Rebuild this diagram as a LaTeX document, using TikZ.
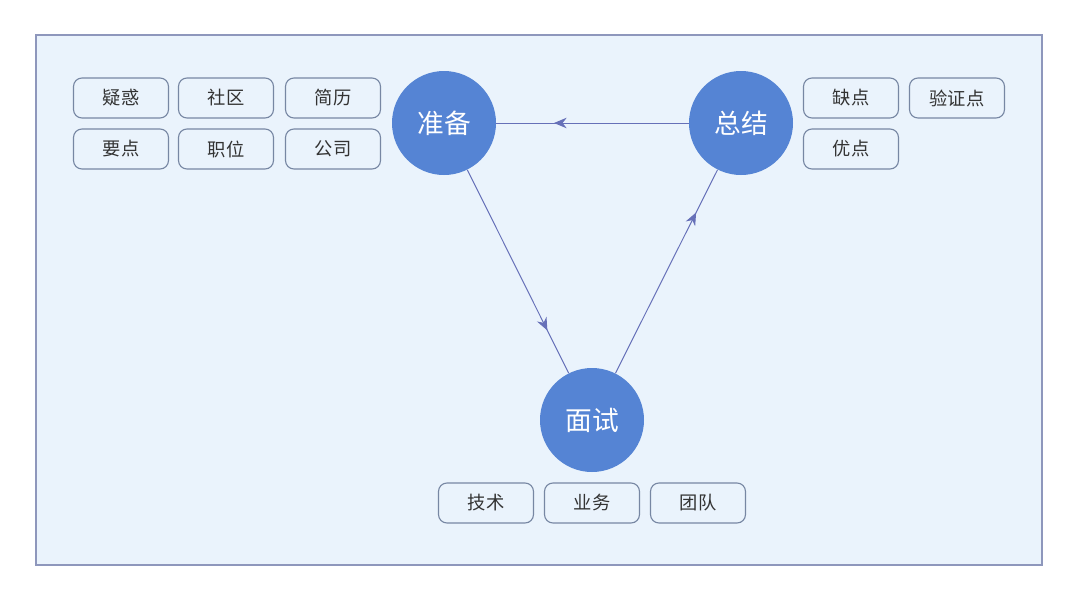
\documentclass[tikz,border=0pt]{standalone}
\usepackage{fontspec}
\setmainfont{Noto Sans CJK SC}
\usetikzlibrary{arrows.meta,decorations.markings}
\definecolor{fondoPanel}{HTML}{EAF3FC}
\definecolor{bordePanel}{HTML}{8E97BC}
\definecolor{azulHub}{HTML}{5584D4}
\definecolor{lineaFlujo}{HTML}{6670B8}
\definecolor{bordeTag}{HTML}{7787A3}
\definecolor{textoTag}{HTML}{333333}

\begin{document}
\begin{tikzpicture}[x=0.025cm,y=-0.025cm,>=Stealth,
  hub/.style={circle,fill=azulHub,minimum size=104*0.025cm,inner sep=0pt,
    text=white,font=\fontsize{19}{22}\selectfont},
  tag/.style={draw=bordeTag,line width=0.8pt,rounded corners=6pt,minimum width=95*0.025cm,
    minimum height=40*0.025cm,inner sep=0pt,text=textoTag,
    font=\fontsize{13}{15}\selectfont},
  flow/.style={lineaFlujo,line width=0.7pt,postaction={decorate},
    decoration={markings,mark=at position #1 with {\arrow{Stealth[length=9pt,width=7.5pt,fill=lineaFlujo]}}}}]
  \useasboundingbox (0,0) rectangle (1080,600);
  \draw[bordePanel,fill=fondoPanel,line width=0.8pt] (36,35) rectangle (1042,565);
  % three stages
  \node[hub] (prep) at (444,123) {准备};
  \node[hub] (summ) at (741,123) {总结};
  \node[hub] (interv) at (592,420) {面试};
  \draw[flow=0.7] (summ) -- (prep);
  \draw[flow=0.79] (prep) -- (interv);
  \draw[flow=0.79] (interv) -- (summ);
  % tags
  \foreach \name/\x/\y/\txt in {doubt/121/98/疑惑, comm/226/98/社区, resume/333/98/简历,
      keyp/121/149/要点, job/226/149/职位, firm/333/149/公司,
      cons/851/98/缺点, check/957/98/验证点, pros/851/149/优点,
      tech/486/503/技术, biz/592/503/业务, team/698/503/团队}
    \node[tag] (\name) at (\x,\y) {\txt};
\end{tikzpicture}
\end{document}
